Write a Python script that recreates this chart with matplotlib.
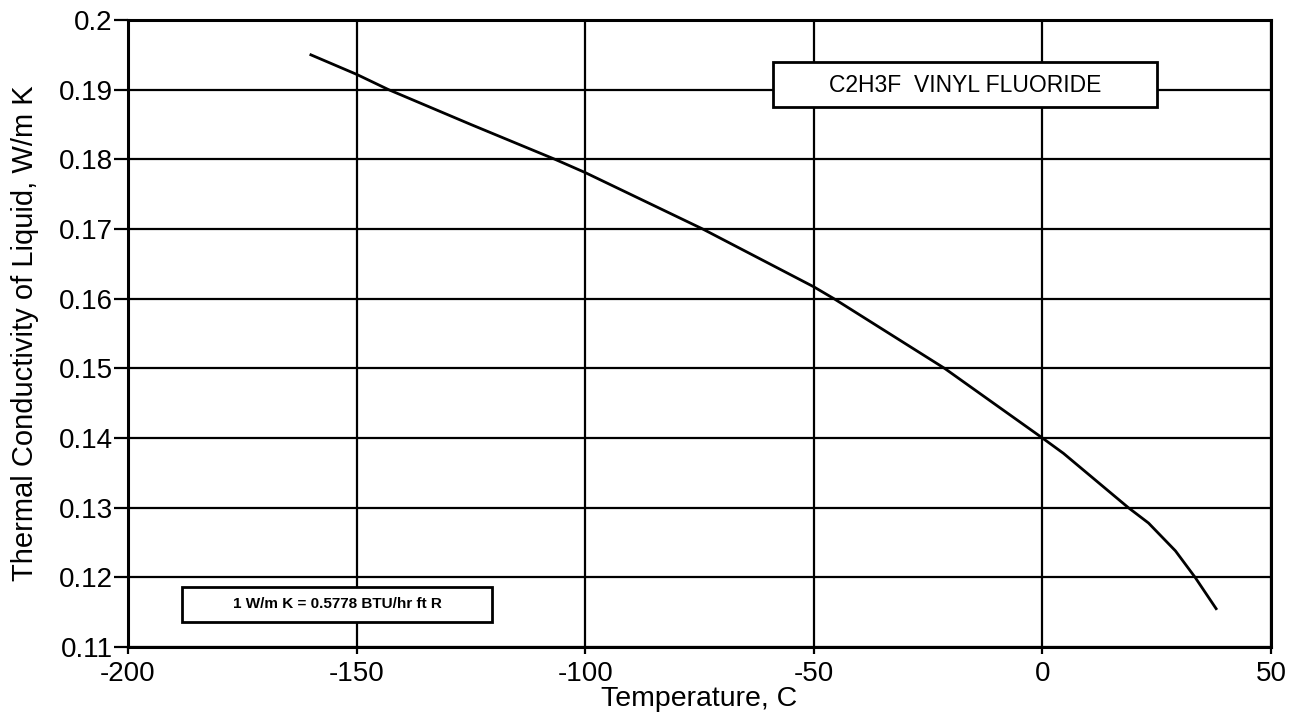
import matplotlib
matplotlib.use("Agg")
import matplotlib.pyplot as plt
from matplotlib.patches import Rectangle

plt.rcParams['font.family'] = ['Liberation Sans', 'DejaVu Sans']
plt.rcParams['axes.unicode_minus'] = False

temp_c = [-160, -150, -143, -125, -106.6, -100, -74.3, -50, -45.6, -21.4, 0, 4.6, 18.8, 23.2, 29.1, 33.4, 38.0]
k_liq = [0.1950, 0.1922, 0.1900, 0.1850, 0.1800, 0.1781, 0.1700, 0.1617, 0.1600, 0.1500, 0.1400, 0.1378,
         0.1300, 0.1278, 0.1238, 0.1200, 0.1155]

xticks = [-200, -150, -100, -50, 0, 50]
yticks = [0.11, 0.12, 0.13, 0.14, 0.15, 0.16, 0.17, 0.18, 0.19, 0.2]
ytick_labels = ["0.11", "0.12", "0.13", "0.14", "0.15", "0.16", "0.17", "0.18", "0.19", "0.2"]

W, H = 1303, 722
fig = plt.figure(figsize=(W / 100, H / 100), dpi=100)
ax = fig.add_axes([128 / W, 1 - 647 / H, (1271 - 128) / W, (647 - 20) / H])
ax.plot(temp_c, k_liq, color='black', lw=2.0, zorder=3)
ax.set_xlim(-200, 50)
ax.set_ylim(0.11, 0.2)
ax.set_xticks(xticks)
ax.set_yticks(yticks)
ax.set_yticklabels(ytick_labels)
ax.grid(True, color='black', lw=1.6)
for s in ax.spines.values():
    s.set_linewidth(2.2)
ax.tick_params(axis='y', direction='out', length=10, width=1.6, labelsize=20, pad=1)
ax.tick_params(axis='x', direction='out', length=5, width=1.6, labelsize=20, pad=5)
ax.set_xlabel("Temperature, C", fontsize=20.5, labelpad=-1)
ax.set_ylabel("Thermal Conductivity of Liquid, W/m K", fontsize=21, labelpad=14)

# title box
fig.patches.append(Rectangle((773 / W, 1 - 107 / H), (1157 - 773) / W, 45 / H,
                             transform=fig.transFigure, fc='white', ec='black', lw=2, zorder=5))
fig.text(965 / W, 1 - 85 / H, "C2H3F  VINYL FLUORIDE", ha='center', va='center',
         fontsize=16.5, zorder=6)
# unit box
fig.patches.append(Rectangle((182 / W, 1 - 622 / H), (492 - 182) / W, 35 / H,
                             transform=fig.transFigure, fc='white', ec='black', lw=2, zorder=5))
fig.text(337 / W, 1 - 604 / H, "1 W/m K = 0.5778 BTU/hr ft R", ha='center', va='center',
         fontsize=11, fontweight='bold', zorder=6)

fig.savefig("out.png", dpi=100)
